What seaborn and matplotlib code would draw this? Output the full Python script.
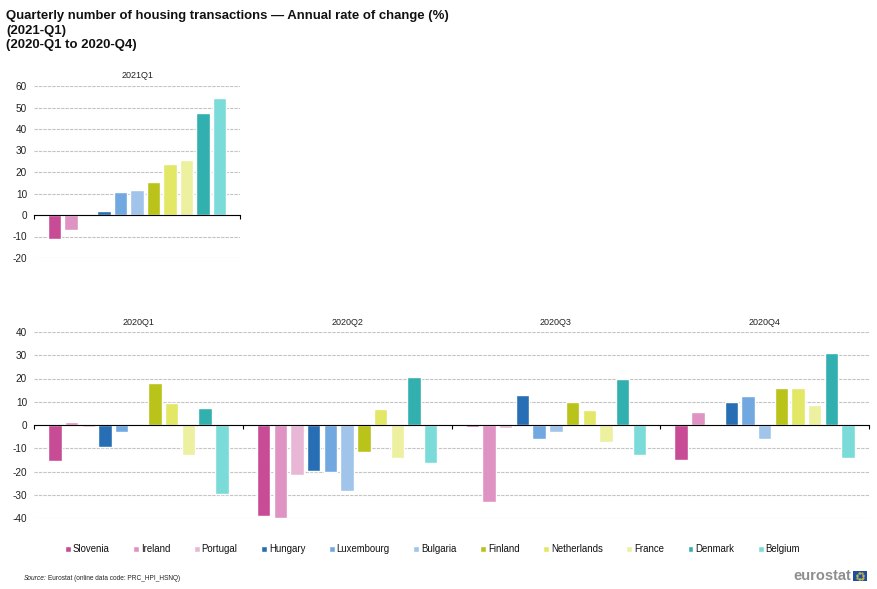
import pandas as pd
import matplotlib
matplotlib.use("Agg")
import matplotlib.pyplot as plt
from matplotlib.patches import Rectangle, Patch
import seaborn as sns
import numpy as np

countries = ["Slovenia", "Ireland", "Portugal", "Hungary", "Luxembourg", "Bulgaria",
             "Finland", "Netherlands", "France", "Denmark", "Belgium"]
colors = ["#C84B96", "#DF93C2", "#E9B7D6", "#286EB4", "#71A8E0", "#A0C4EA",
          "#B9C31A", "#E3E766", "#EDF09F", "#32AFAF", "#7ADBD9"]

q1_2021 = [-11.3, -7.1, np.nan, 2.0, 10.9, 11.4, 15.2, 23.5, 25.8, 47.5, 54.2]
q1_2020 = [-15.3, 1.1, -1.0, -9.4, -3.2, -0.6, 18.0, 9.3, -13.1, 7.5, -29.5]
q2_2020 = [-39.0, -40.2, -21.7, -19.6, -20.3, -28.6, -11.4, 6.7, -14.4, 20.5, -16.5]
q3_2020 = [-1.0, -33.0, -1.4, 12.8, -6.2, -2.8, 10.0, 6.6, -7.1, 20.0, -13.1]
q4_2020 = [-14.9, 5.8, 0.5, 9.7, 12.3, -6.2, 16.1, 16.1, 8.8, 30.9, -14.0]

top_periods = ["2021Q1"]
bottom_periods = ["2020Q1", "2020Q2", "2020Q3", "2020Q4"]
top_ticks = [-20, -10, 0, 10, 20, 30, 40, 50, 60]
bottom_ticks = [-40, -30, -20, -10, 0, 10, 20, 30, 40]

title = ("Quarterly number of housing transactions \u2014 Annual rate of change (%)\n"
         "(2021-Q1)\n(2020-Q1 to 2020-Q4)")


def make_frame(periods, series):
    frames = []
    for period, values in zip(periods, series):
        frames.append(pd.DataFrame({"period": period, "country": countries, "change": values}))
    return pd.concat(frames, ignore_index=True)


def draw_panel(ax, df, periods, ticks, label_pad):
    sns.barplot(data=df, x="period", y="change", hue="country", hue_order=countries,
                order=periods, palette=colors, width=0.88, gap=0.2, saturation=1,
                errorbar=None, legend=False, ax=ax)
    ax.set_xlim(-0.5, len(periods) - 0.5)
    ax.set_ylim(ticks[0], ticks[-1])
    ax.set_yticks(ticks)
    ax.set_xlabel("")
    ax.set_ylabel("")
    ax.set_axisbelow(True)
    ax.grid(axis="y", color="#C4C4C4", linestyle=(0, (3, 1)), linewidth=0.8)
    ax.grid(axis="x", visible=False)

    for side in ["top", "left", "right"]:
        ax.spines[side].set_visible(False)
    ax.spines["bottom"].set_position(("data", 0))
    ax.spines["bottom"].set_color("black")
    ax.spines["bottom"].set_linewidth(0.8)

    # period names sit on top, small tick marks on the zero line between periods
    ax.set_xticks(np.arange(len(periods)))
    ax.set_xticklabels(periods)
    ax.set_xticks(np.arange(len(periods) + 1) - 0.5, minor=True)
    ax.tick_params(axis="x", which="major", length=0, labelbottom=False, labeltop=True,
                   bottom=False, top=False, labelsize=6.5, pad=label_pad, colors="#222222")
    ax.tick_params(axis="x", which="minor", length=3, width=0.8, bottom=True, top=False,
                   color="black")
    ax.tick_params(axis="y", length=0, labelsize=7.2, pad=5, colors="#222222")


sns.set_style("white")
plt.rcParams["font.family"] = ["Liberation Sans", "DejaVu Sans"]
plt.rcParams["axes.unicode_minus"] = False

W, H = 877, 589
fig = plt.figure(figsize=(W / 100, H / 100), dpi=100)

ax_top = fig.add_axes([34 / W, 1 - 258 / H, 206 / W, 172 / H])
draw_panel(ax_top, make_frame(top_periods, [q1_2021]), top_periods, top_ticks, 4.5)

ax_bottom = fig.add_axes([34 / W, 1 - 518 / H, 835 / W, 186 / H])
draw_panel(ax_bottom, make_frame(bottom_periods, [q1_2020, q2_2020, q3_2020, q4_2020]),
           bottom_periods, bottom_ticks, 3.5)

fig.text(6 / W, 1 - 10 / H, title, fontsize=9.42, fontweight="bold", va="top", ha="left",
         linespacing=1.3, color="#111111")

handles = [Patch(facecolor=c, label=n) for n, c in zip(countries, colors)]
fig.legend(handles=handles, ncol=11, frameon=False, fontsize=6.9, loc="center left",
           bbox_to_anchor=(65 / W, 1 - 549 / H), borderaxespad=0, borderpad=0,
           handlelength=0.6, handleheight=0.6, handletextpad=0.2, columnspacing=2.47,
           labelcolor="#111111")

fig.text(24 / W, 1 - 578 / H, "Source:", fontsize=4.8, style="italic", va="center", color="#222222")
fig.text(48 / W, 1 - 578 / H, "Eurostat (online data code: PRC_HPI_HSNQ)", fontsize=4.7,
         va="center", color="#222222")

fig.text(851 / W, 1 - 576 / H, "eurostat", fontsize=10.5, fontweight="bold", ha="right",
         va="center", color="#8E8E8E")
fig.add_artist(Rectangle((853 / W, 1 - 581 / H), 14 / W, 10 / H, transform=fig.transFigure,
                         facecolor="#1F4E9E", edgecolor="none"))
angles = np.linspace(0, 2 * np.pi, 12, endpoint=False)
fig.add_artist(plt.Line2D((860 + 3 * np.cos(angles)) / W, 1 - (576 + 3 * np.sin(angles)) / H,
                          transform=fig.transFigure, linestyle="none", marker="o",
                          markersize=0.6, color="#C9B94A"))

fig.savefig("out.png", dpi=100)
